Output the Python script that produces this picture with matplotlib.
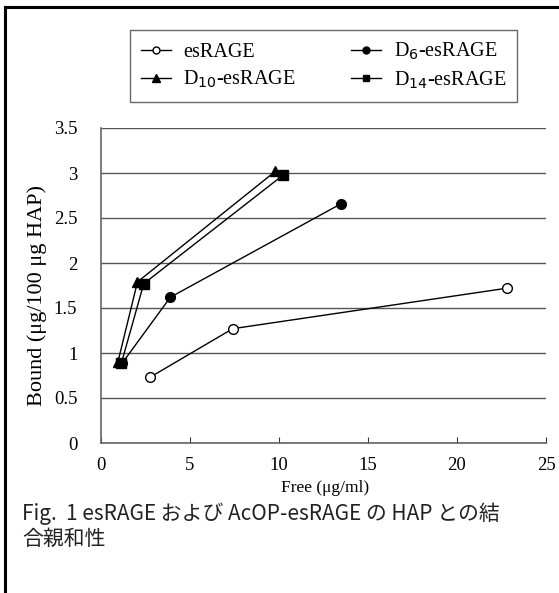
import matplotlib
matplotlib.use("Agg")
import matplotlib.pyplot as plt
from matplotlib.lines import Line2D

series_names = ["esRAGE", "D$_{6}$-esRAGE", "D$_{10}$-esRAGE", "D$_{14}$-esRAGE"]
es_x = [2.75, 7.4, 22.8]
es_y = [0.73, 1.27, 1.72]
d6_x = [1.2, 3.9, 13.5]
d6_y = [0.89, 1.62, 2.66]
d10_x = [0.95, 2.05, 9.8]
d10_y = [0.90, 1.79, 3.02]
d14_x = [1.15, 2.4, 10.25]
d14_y = [0.89, 1.77, 2.98]
x_ticks = [0, 5, 10, 15, 20, 25]
y_ticks = [0, 0.5, 1, 1.5, 2, 2.5, 3, 3.5]
y_tick_labels = ["0", "0.5", "1", "1.5", "2", "2.5", "3", "3.5"]
caption_lines = ["Fig.  1 esRAGE および AcOP-esRAGE の HAP との結", "合親和性"]

W, H = 559, 593
fig = plt.figure(figsize=(W / 100, H / 100), dpi=100)
serif = "Liberation Serif"

def fx(px):
    return px / W

def fy(py):
    return 1 - py / H

ax = fig.add_axes([fx(101), fy(443), fx(546) - fx(101), fy(128) - fy(443)])
ax.set_xlim(0, 25)
ax.set_ylim(0, 3.5)

ax.plot(es_x, es_y, color="black", lw=1, marker="o", ms=7, mfc="white", mec="black", mew=1, zorder=3)
ax.plot(d6_x, d6_y, color="black", lw=1, marker="o", ms=7, mfc="black", mec="black", zorder=3)
ax.plot(d10_x, d10_y, color="black", lw=1, marker="^", ms=7.5, mfc="black", mec="black", zorder=3)
ax.plot(d14_x, d14_y, color="black", lw=1, marker="s", ms=7, mfc="black", mec="black", zorder=3)

ax.set_xticks(x_ticks)
ax.set_yticks(y_ticks)
ax.set_yticklabels(y_tick_labels)
ax.grid(axis="y", color="#555555", lw=1)
ax.set_axisbelow(True)
for s in ["top", "right"]:
    ax.spines[s].set_visible(False)
for s in ["left", "bottom"]:
    ax.spines[s].set_color("#666666")
    ax.spines[s].set_linewidth(1.2)
ax.tick_params(axis="x", direction="in", length=4, color="#333333", pad=10)
ax.tick_params(axis="y", length=0, pad=17)
for lab in ax.get_xticklabels() + ax.get_yticklabels():
    lab.set_fontfamily(serif)
    lab.set_fontsize(13.5)

ax.set_xlabel("Free (μg/ml)", fontfamily=serif, fontsize=12.5)
ax.xaxis.set_label_coords((325 - 101) / (546 - 101), -(488 - 443) / (443 - 128))
ax.set_ylabel("Bound (μg/100 μg HAP)", fontfamily=serif, fontsize=16)
ax.yaxis.set_label_coords(-(101 - 37) / (546 - 101), (443 - 296) / (443 - 128))
ax.yaxis.label.set_va("center")
ax.xaxis.label.set_va("center")

handles = [
    Line2D([], [], color="black", lw=1, marker="o", ms=5, mfc="white", mec="black"),
    Line2D([], [], color="black", lw=1, marker="^", ms=5.5, mfc="black", mec="black"),
    Line2D([], [], color="black", lw=1, marker="o", ms=5, mfc="black", mec="black"),
    Line2D([], [], color="black", lw=1, marker="s", ms=5, mfc="black", mec="black"),
]
labels = [series_names[0], series_names[2], series_names[1], series_names[3]]
leg = fig.legend(handles, labels, ncol=2, loc="upper left",
                 bbox_to_anchor=(fx(130), fy(113), fx(517) - fx(130), fy(30) - fy(113)),
                 mode="expand", prop={"family": serif, "size": 14.5},
                 frameon=True, fancybox=False, edgecolor="#444444",
                 handlelength=1.5, handletextpad=0.6, columnspacing=2.0,
                 labelspacing=0.35, borderpad=0.55, borderaxespad=0)
leg.get_frame().set_linewidth(1)

cap_font = ["Noto Sans CJK JP", "DejaVu Sans"]
fig.text(fx(22), fy(514), caption_lines[0], ha="left", va="center",
         fontfamily=cap_font, fontsize=15, color="#222222")
fig.text(fx(22), fy(539), caption_lines[1], ha="left", va="center",
         fontfamily=cap_font, fontsize=15, color="#222222")

# outer frame (top and left edges)
fig.add_artist(Line2D([fx(5), 1], [fy(7), fy(7)], color="black", lw=2.2, transform=fig.transFigure))
fig.add_artist(Line2D([fx(5), fx(5)], [fy(7), 0], color="black", lw=2.2, transform=fig.transFigure))

fig.savefig("out.png", dpi=100)
